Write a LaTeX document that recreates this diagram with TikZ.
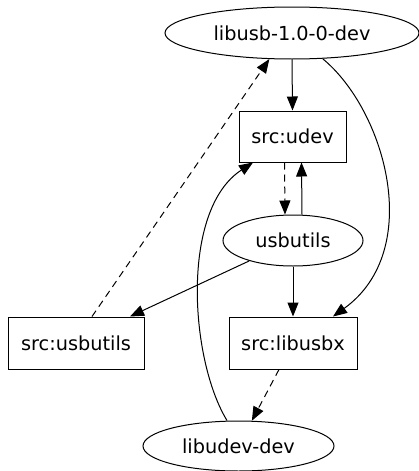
\documentclass[tikz,border=0pt]{standalone}
\usepackage{fontspec}
\setmainfont{DejaVu Sans}
\usetikzlibrary{shapes.geometric,arrows.meta}
\begin{document}
\begin{tikzpicture}[x=1pt,y=-1pt,
  every node/.style={font=\fontsize{19.3}{23}\selectfont, line width=1pt, draw, inner sep=0pt},
  pkg/.style={ellipse},
  srcbox/.style={rectangle},
  dep/.style={line width=1pt, -{Triangle[length=14pt,width=11pt]}},
  bdep/.style={dep, dash pattern=on 7pt off 5pt}]
\useasboundingbox (0,0) rectangle (419,471);

\node[pkg, minimum width=254pt, minimum height=52pt] (libusb) at (292,33) {libusb-1.0-0-dev};
\node[srcbox, minimum width=107pt, minimum height=51pt] (udev) at (292.5,136.5) {src:udev};
\node[pkg, minimum width=140pt, minimum height=51pt] (usbutils) at (293,240.5) {usbutils};
\node[srcbox, minimum width=136pt, minimum height=52pt] (srcusbutils) at (76,343) {src:usbutils};
\node[srcbox, minimum width=128pt, minimum height=52pt] (libusbx) at (293,343) {src:libusbx};
\node[pkg, minimum width=191pt, minimum height=50pt] (libudev) at (238.5,446) {libudev-dev};

% solid dependencies
\draw[dep] (libusb.south) -- (udev.north);
\draw[dep] (libusb.-40) .. controls (385,110) and (425,250) .. ([xshift=40pt]libusbx.north);
\draw[dep] ([xshift=9pt]usbutils.north) -- ([xshift=9pt]udev.south);
\draw[dep] (usbutils) -- ([xshift=54pt]srcusbutils.north);
\draw[dep] (usbutils) -- (libusbx);
\draw[dep] ([xshift=-11.5pt]libudev.north) .. controls (190,360) and (180,210) .. ([xshift=-39.5pt]udev.south);

% build dependencies
\draw[bdep] ([xshift=16pt]srcusbutils.north) -- (libusb.-131);
\draw[bdep] ([xshift=-8pt]udev.south) -- ([xshift=-8pt]usbutils.north);
\draw[bdep] ([xshift=-14pt]libusbx.south) -- (libudev);
\end{tikzpicture}
\end{document}
